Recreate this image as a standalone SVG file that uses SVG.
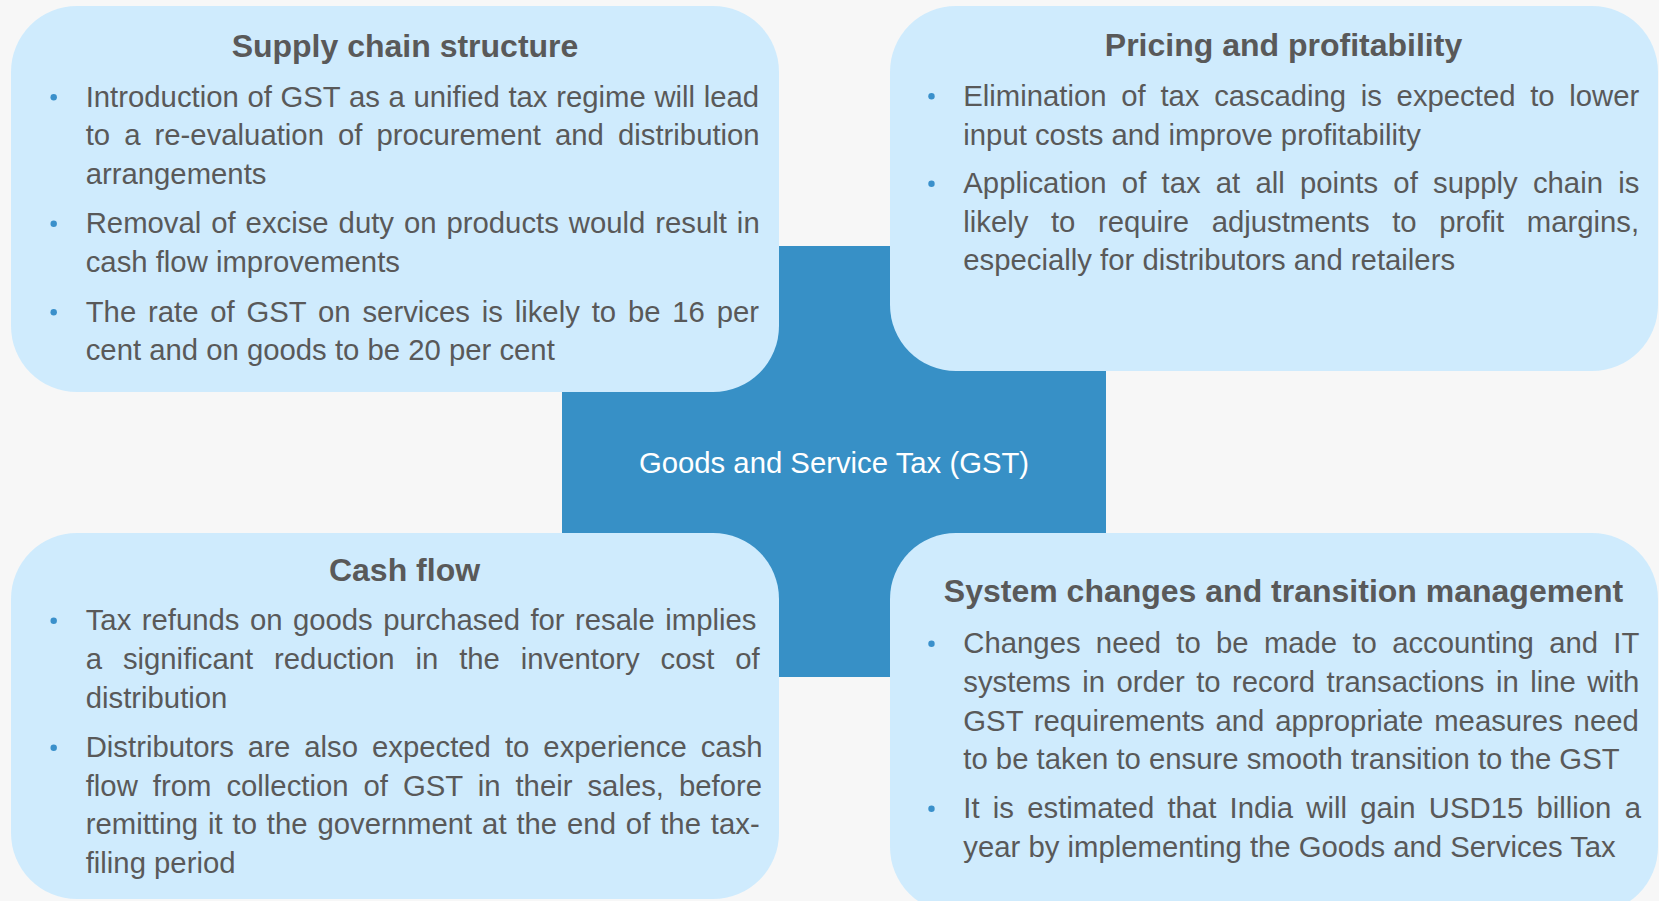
<svg xmlns="http://www.w3.org/2000/svg" width="1659" height="901" viewBox="0 0 1659 901">
<style>
.bg{fill:#f7f7f7}
.box{fill:#cfebfd}
.core{fill:#3790c6}
.h{font-family:"Liberation Sans",Arial,sans-serif;font-size:32px;font-weight:bold;fill:#595959;text-anchor:middle}
.t{font-family:"Liberation Sans",Arial,sans-serif;font-size:29.3px;fill:#595959}
.c{font-family:"Liberation Sans",Arial,sans-serif;font-size:29.3px;fill:#ffffff;text-anchor:middle}
.b{fill:#3a90cb}
</style>
<rect class="bg" x="0" y="0" width="1659" height="901"/>
<g id="center">
<rect class="core" x="562" y="246" width="544" height="431"/>
<text class="c" x="834" y="473">Goods and Service Tax (GST)</text>
</g>
<g id="connectors"></g>
<g id="supply-chain">
<rect class="box" x="11" y="6" width="768" height="386" rx="66" ry="66"/>
<text class="h" x="405" y="57">Supply chain structure</text>
<circle class="b" cx="53.7" cy="97.3" r="3.2"/>
<text class="t" x="85.7" y="106.5" word-spacing="0.52">Introduction of GST as a unified tax regime will lead</text>
<text class="t" x="85.7" y="145" word-spacing="5.93">to a re-evaluation of procurement and distribution</text>
<text class="t" x="85.7" y="183.5">arrangements</text>
<circle class="b" cx="53.7" cy="223.8" r="3.2"/>
<text class="t" x="85.7" y="233" word-spacing="1.81">Removal of excise duty on products would result in</text>
<text class="t" x="85.7" y="271.5">cash flow improvements</text>
<circle class="b" cx="53.7" cy="312.3" r="3.2"/>
<text class="t" x="85.7" y="321.5" word-spacing="3.68">The rate of GST on services is likely to be 16 per</text>
<text class="t" x="85.7" y="360">cent and on goods to be 20 per cent</text>
</g>
<g id="pricing">
<rect class="box" x="890" y="6" width="768" height="365" rx="66" ry="66"/>
<text class="h" x="1283.5" y="56">Pricing and profitability</text>
<circle class="b" cx="931.5" cy="96.3" r="3.2"/>
<text class="t" x="963.3" y="105.5" word-spacing="6.54">Elimination of tax cascading is expected to lower</text>
<text class="t" x="963.3" y="144.5">input costs and improve profitability</text>
<circle class="b" cx="931.5" cy="183.8" r="3.2"/>
<text class="t" x="963.3" y="193" word-spacing="7.08">Application of tax at all points of supply chain is</text>
<text class="t" x="963.3" y="232" word-spacing="14.4">likely to require adjustments to profit margins,</text>
<text class="t" x="963.3" y="270">especially for distributors and retailers</text>
</g>
<g id="cash-flow">
<rect class="box" x="11" y="533" width="768" height="366" rx="66" ry="66"/>
<text class="h" x="404.5" y="581">Cash flow</text>
<circle class="b" cx="53.7" cy="620.8" r="3.2"/>
<text class="t" x="85.7" y="630" word-spacing="2.3">Tax refunds on goods purchased for resale implies</text>
<text class="t" x="85.7" y="669" word-spacing="12.76">a significant reduction in the inventory cost of</text>
<text class="t" x="85.7" y="707.5">distribution</text>
<circle class="b" cx="53.7" cy="747.8" r="3.2"/>
<text class="t" x="85.7" y="757" word-spacing="5.88">Distributors are also expected to experience cash</text>
<text class="t" x="85.7" y="796" word-spacing="6.86">flow from collection of GST in their sales, before</text>
<text class="t" x="85.7" y="834" word-spacing="1.77">remitting it to the government at the end of the tax-</text>
<text class="t" x="85.7" y="872.5">filing period</text>
</g>
<g id="system-changes">
<rect class="box" x="890" y="533" width="768" height="380" rx="66" ry="66"/>
<text class="h" x="1283.5" y="602">System changes and transition management</text>
<circle class="b" cx="931.5" cy="643.8" r="3.2"/>
<text class="t" x="963.3" y="653" word-spacing="7.14">Changes need to be made to accounting and IT</text>
<text class="t" x="963.3" y="691.5" word-spacing="3.29">systems in order to record transactions in line with</text>
<text class="t" x="963.3" y="730.5" word-spacing="2.64">GST requirements and appropriate measures need</text>
<text class="t" x="963.3" y="769">to be taken to ensure smooth transition to the GST</text>
<circle class="b" cx="931.5" cy="808.8" r="3.2"/>
<text class="t" x="963.3" y="818" word-spacing="5.09">It is estimated that India will gain USD15 billion a</text>
<text class="t" x="963.3" y="857">year by implementing the Goods and Services Tax</text>
</g>
</svg>
